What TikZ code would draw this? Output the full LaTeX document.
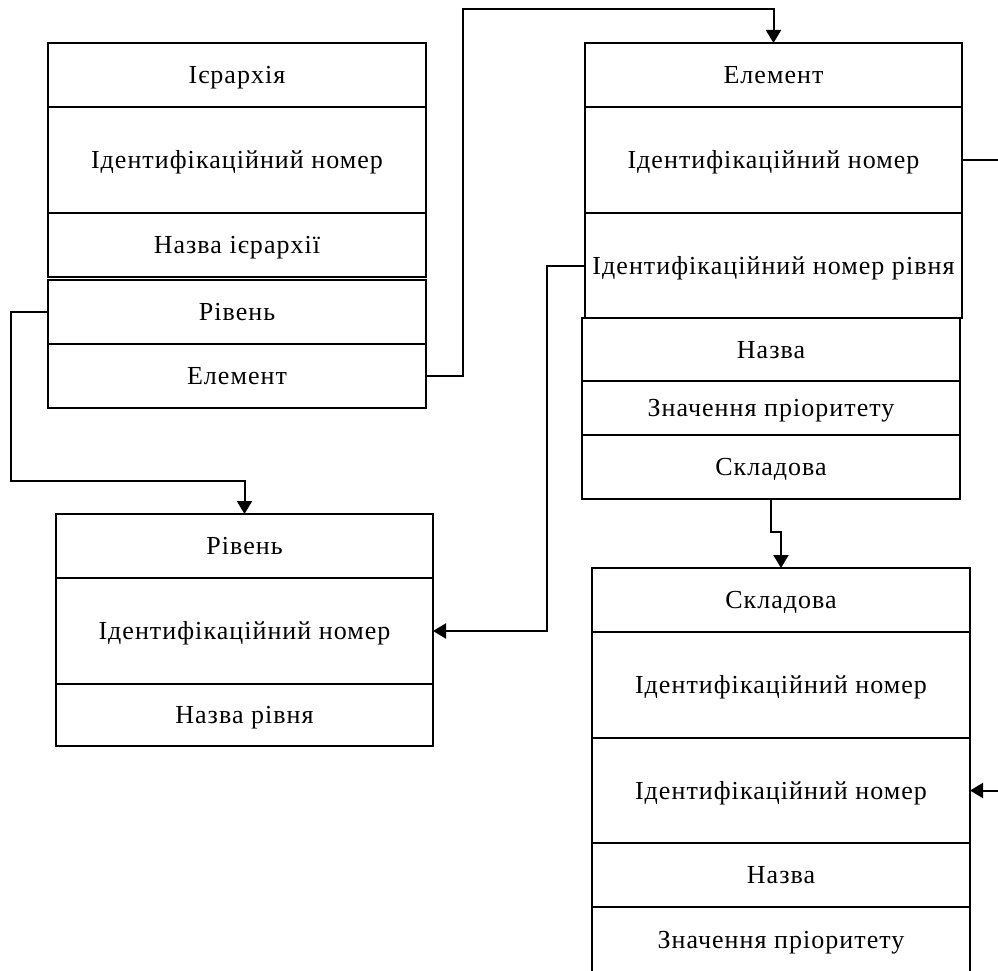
\documentclass[tikz,border=0pt]{standalone}
\usepackage{fontspec}
\setmainfont{Liberation Serif}[LetterSpace=4]
\usepackage{tikz}
\usetikzlibrary{arrows.meta,positioning,calc}

\tikzset{
  field/.style={draw, line width=2pt, anchor=north west, inner sep=0pt, outer sep=0pt,
    text height=17pt, text depth=0pt, font=\fontsize{26}{30}\selectfont},
  link/.style={line width=2pt, -{Triangle[length=13pt,width=15pt]}},
  plainlink/.style={line width=2pt}
}

\begin{document}
\begin{tikzpicture}[x=1pt, y=-1pt]
\clip (0,0) rectangle (998,971);
% table: hierarchy
\foreach \x/\y/\w/\h/\t [count=\i] in {48/43/378/64/Ієрархія,48/107/378/106/Ідентифікаційний номер,
  48/213/378/64/Назва ієрархії,48/280/378/64/Рівень,48/344/378/64/Елемент} {
  \node[field, minimum width=\w pt, minimum height=\h pt] (hier\i) at (\x,\y) {\t};
}
% table: level
\foreach \x/\y/\w/\h/\t [count=\i] in {56/514/377/64/Рівень,56/578/377/106/Ідентифікаційний номер,
  56/684/377/62/Назва рівня} {
  \node[field, minimum width=\w pt, minimum height=\h pt] (lvl\i) at (\x,\y) {\t};
}
% table: element
\foreach \x/\y/\w/\h/\t [count=\i] in {585/43/377/64/Елемент,585/107/377/106/Ідентифікаційний номер,
  585/213/377/105/Ідентифікаційний номер рівня,582/318/378/63/Назва,
  582/381/378/54/Значення пріоритету,582/435/378/64/Складова} {
  \node[field, minimum width=\w pt, minimum height=\h pt] (elem\i) at (\x,\y) {\t};
}
% table: component
\foreach \x/\y/\w/\h/\t [count=\i] in {592/568/378/64/Складова,592/632/378/106/Ідентифікаційний номер,
  592/738/378/105/Ідентифікаційний номер,592/843/378/64/Назва,592/907/378/66/Значення пріоритету} {
  \node[field, minimum width=\w pt, minimum height=\h pt] (comp\i) at (\x,\y) {\t};
}
% connectors
\coordinate (bendA) at (11,481);
\coordinate (bendB) at (463,9);
\coordinate (bendC) at (547,0);
\coordinate (outA) at (1000,0);
\coordinate (inA) at (1000,0);
\draw[link] (hier4.west) -| (bendA) -| (lvl1.north);
\draw[link] (hier5.east) -| (bendB) -| (elem1.north);
\draw[link] (elem3.west) -| (bendC |- lvl2.east) -- (lvl2.east);
\draw[link] (elem6.south) -- ++(0,33) -| (comp1.north);
\draw[plainlink] (elem2.east) -- (elem2.east -| outA);
\draw[link] (comp3.east -| inA) -- (comp3.east);
\end{tikzpicture}
\end{document}
